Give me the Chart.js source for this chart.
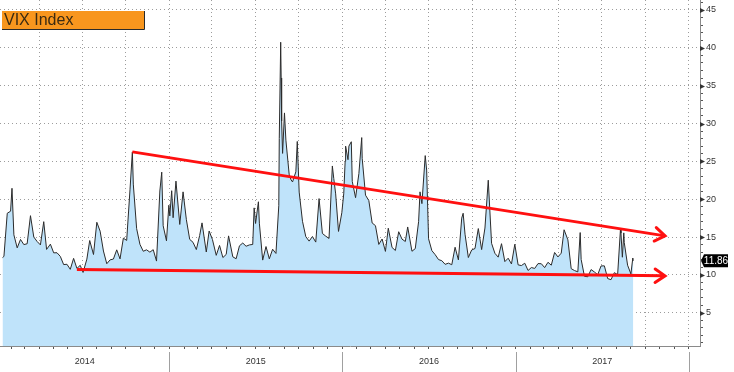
<!DOCTYPE html>
<html><head><meta charset="utf-8">
<script src="https://cdn.jsdelivr.net/npm/chart.js@4.4.1/dist/chart.umd.min.js"></script>
<style>html,body{margin:0;padding:0;background:#fff;} #wrap{width:734px;height:372px;position:relative;}</style>
</head><body><div id="wrap"><canvas id="c" width="734" height="372"></canvas></div>
<script>
// ---------- data ----------
const title = 'VIX Index';
const d2014 = ['01-14','01-17','01-24','01-31','02-03','02-07','02-14','02-21','02-28','03-07','03-14','03-21','03-28','04-04','04-11','04-17','04-25','05-02','05-09','05-16','05-23','05-30','06-06','06-13','06-20','06-27','07-03','07-11','07-17','07-25','08-01','08-08','08-15','08-22','08-29','09-05','09-12','09-19','09-26','10-03','10-10','10-15','10-17','10-24','10-31','11-07','11-14','11-21','11-28','12-05','12-12','12-16','12-19','12-26','12-31'];
const v2014 = [12.28,12.44,18.14,18.41,21.44,15.29,13.57,14.68,14.00,14.11,17.82,15.00,14.41,13.96,17.03,13.36,14.06,12.91,12.92,12.44,11.36,11.40,10.73,12.18,10.85,11.26,10.32,12.08,14.54,12.69,16.95,15.77,13.15,11.47,11.98,12.09,13.31,12.11,14.85,14.55,21.24,26.25,21.99,16.11,14.03,13.12,13.31,13.00,13.33,11.82,21.08,23.57,16.49,14.50,19.20];
const d2015 = ['01-02','01-06','01-09','01-15','01-23','01-30','02-06','02-13','02-20','02-27','03-06','03-11','03-20','03-26','04-02','04-10','04-17','04-24','05-01','05-06','05-15','05-22','05-29','06-05','06-12','06-19','06-26','06-29','07-02','07-08','07-10','07-17','07-24','07-31','08-07','08-14','08-20','08-21','08-24','08-25','08-26','08-28','09-01','09-04','09-11','09-15','09-18','09-25','09-28','10-02','10-09','10-16','10-23','10-30','11-06','11-13','11-20','11-27','12-04','12-11','12-14','12-18','12-24','12-31'];
const v2015 = [17.79,21.12,17.55,22.39,16.66,20.97,17.29,14.69,14.30,13.34,15.20,16.87,13.02,15.80,14.67,12.58,13.89,12.29,12.70,15.15,12.38,12.13,13.84,14.21,13.78,13.96,14.02,18.85,16.79,19.66,16.83,11.95,13.74,12.12,13.39,12.83,19.14,28.03,40.74,36.02,30.32,26.05,31.40,27.80,23.20,22.54,22.28,23.62,27.63,20.94,17.08,15.05,14.46,15.07,14.33,20.08,15.47,15.12,14.81,24.39,22.73,20.70,15.74,18.21];
const d2016 = ['01-04','01-07','01-08','01-13','01-15','01-20','01-22','01-29','02-05','02-11','02-12','02-19','02-26','03-04','03-11','03-18','03-25','04-01','04-07','04-15','04-22','04-29','05-06','05-13','05-18','05-27','06-03','06-10','06-13','06-17','06-24','06-27','07-01','07-08','07-15','07-22','07-29','08-05','08-12','08-19','08-26','09-02','09-09','09-12','09-16','09-23','09-30','10-07','10-14','10-21','10-28','11-04','11-11','11-18','11-25','12-02','12-09','12-16','12-23','12-30'];
const v2016 = [20.70,24.99,27.01,25.22,27.02,27.59,22.34,20.20,23.38,28.14,25.40,20.53,19.81,16.86,16.50,14.02,14.74,13.10,16.16,13.62,13.22,15.70,14.72,14.41,16.33,13.12,13.47,17.03,20.97,19.41,25.76,23.85,14.77,13.20,12.67,12.02,11.87,11.39,11.55,11.34,13.65,11.98,17.50,18.14,15.37,12.29,13.29,13.48,16.12,13.34,16.19,22.51,14.17,12.85,12.34,14.12,11.75,12.20,11.44,14.04];
const d2017 = ['01-06','01-13','01-20','01-27','02-03','02-10','02-17','02-24','03-03','03-10','03-17','03-24','03-31','04-07','04-13','04-21','04-28','05-05','05-12','05-17','05-19','05-26','06-02','06-09','06-16','06-23','06-30','07-07','07-14','07-21','07-28','08-04','08-10','08-11','08-14','08-17','08-18','08-25','09-01','09-05','09-06'];
const v2017 = [11.32,11.23,11.54,10.58,10.97,10.85,11.49,11.47,10.96,11.66,11.28,12.96,12.37,12.87,15.96,14.63,10.82,10.57,10.40,15.59,12.04,9.81,9.75,10.70,10.38,10.02,11.18,11.19,9.51,9.36,10.29,10.03,16.04,15.51,12.33,15.55,14.26,11.28,10.13,12.23,11.86];
const yearLabels = ['2014','2015','2016','2017'];
const yTickValues = [5,10,15,20,25,30,35,40,45];
const lastValueLabel = '11.86';
const upperTrendDates = ['2014-10-15','2017-11-12'];
const upperTrendValues = [26.25,15.15];
const lowerTrendDates = ['2014-06-20','2017-11-12'];
const lowerTrendValues = [10.72,9.87];

// ---------- build ----------
const DAY = 86400000;
const ts = s => Date.parse(s + 'T00:00:00Z');
const series = (yr, ds, vs) => ds.map((d, i) => ({x: ts(yr + '-' + d), y: vs[i]}));
const vixData = [].concat(series(2014, d2014, v2014), series(2015, d2015, v2015), series(2016, d2016, v2016), series(2017, d2017, v2017));
const pair = (ds, vs) => ds.map((d, i) => ({x: ts(d), y: vs[i]}));

const xMin = ts('2014-01-01') + 7.7 * DAY;
const xMax = ts('2018-01-01') + 23.8 * DAY;
const yMin = 0.6, yMax = 46.32;

const monthTicks = [];
for (let y = 2014; y <= 2018; y++) for (let m = 0; m < 12; m++) {
  const v = Date.UTC(y, m, 1);
  if (v >= xMin && v <= xMax) monthTicks.push(v);
}
const labelTicks = {};
yearLabels.forEach(yl => {
  const a = Math.max(Date.UTC(+yl, 0, 1), xMin), b = Math.min(Date.UTC(+yl + 1, 0, 1), xMax);
  labelTicks[Math.round((a + b) / 2)] = yl;
});
const yearBounds = yearLabels.map(yl => Date.UTC(+yl + 1, 0, 1));
const isQuarter = v => { const d = new Date(v); return d.getUTCDate() === 1 && d.getUTCMonth() % 3 === 0; };

const FONT = "'Liberation Sans', Arial, sans-serif";
const GRID = '#9c9c9c';
const zeroPad = s => { s.paddingLeft = 0; s.paddingRight = 0; s.paddingTop = 0; s.paddingBottom = 0; };

const decor = {
  id: 'decor',
  afterDraw(chart) {
    const ctx = chart.ctx, xs = chart.scales.x, ys = chart.scales.y, ca = chart.chartArea;
    ctx.save();
    // title box
    ctx.fillStyle = '#f8961e';
    ctx.fillRect(2, 11, 142, 18);
    ctx.strokeStyle = '#2a2a2a'; ctx.lineWidth = 1;
    ctx.beginPath(); ctx.moveTo(2, 29.5); ctx.lineTo(144.5, 29.5); ctx.lineTo(144.5, 11); ctx.stroke();
    ctx.fillStyle = '#3b2b12';
    ctx.font = '16px ' + FONT; ctx.textBaseline = 'middle'; ctx.textAlign = 'left';
    ctx.fillText(title, 4, 20.5);
    // year separators below axis
    ctx.strokeStyle = '#a0a0a0'; ctx.lineWidth = 1;
    yearBounds.forEach(v => {
      const px = Math.round(xs.getPixelForValue(v)) + 0.5;
      if (px > ca.right) return;
      ctx.beginPath(); ctx.moveTo(px, ca.bottom + 6); ctx.lineTo(px, 372); ctx.stroke();
    });
    // major tick markers on right axis
    ctx.fillStyle = '#333';
    yTickValues.forEach(v => {
      const py = Math.round(ys.getPixelForValue(v)) + 0.5;
      ctx.beginPath(); ctx.moveTo(ca.right, py - 2.5); ctx.lineTo(ca.right + 5, py); ctx.lineTo(ca.right, py + 2.5); ctx.closePath(); ctx.fill();
    });
    // last value label
    const lv = parseFloat(lastValueLabel);
    const ly = ys.getPixelForValue(lv);
    ctx.fillStyle = '#000';
    ctx.beginPath();
    ctx.moveTo(ca.right + 1, ly); ctx.lineTo(ca.right + 4, ly - 6.5); ctx.lineTo(ca.right + 28, ly - 6.5);
    ctx.lineTo(ca.right + 28, ly + 6.5); ctx.lineTo(ca.right + 4, ly + 6.5); ctx.closePath(); ctx.fill();
    ctx.fillStyle = '#fff'; ctx.font = '10px ' + FONT; ctx.textAlign = 'center';
    ctx.fillText(lastValueLabel, ca.right + 16, ly + 0.5);
    // arrowheads on trend lines
    [1, 2].forEach(i => {
      const pts = chart.getDatasetMeta(i).data;
      const p1 = pts[pts.length - 2], p2 = pts[pts.length - 1];
      const ang = Math.atan2(p2.y - p1.y, p2.x - p1.x);
      const L = 12, A = 0.6;
      ctx.strokeStyle = '#ff1010'; ctx.lineWidth = 3; ctx.lineCap = 'round';
      ctx.beginPath();
      ctx.moveTo(p2.x - L * Math.cos(ang - A), p2.y - L * Math.sin(ang - A));
      ctx.lineTo(p2.x, p2.y);
      ctx.lineTo(p2.x - L * Math.cos(ang + A), p2.y - L * Math.sin(ang + A));
      ctx.stroke();
    });
    ctx.restore();
  }
};

new Chart(document.getElementById('c'), {
  type: 'line',
  data: {
    datasets: [
      {data: vixData, order: 3, borderColor: '#2b2b2b', borderWidth: 1, backgroundColor: '#bfe3fa', fill: 'origin', pointRadius: 0, tension: 0},
      {data: pair(upperTrendDates, upperTrendValues), order: 1, borderColor: '#ff1010', borderWidth: 3, pointRadius: 0, fill: false},
      {data: pair(lowerTrendDates, lowerTrendValues), order: 1, borderColor: '#ff1010', borderWidth: 3, pointRadius: 0, fill: false}
    ]
  },
  options: {
    responsive: false, animation: false, maintainAspectRatio: false,
    layout: {padding: 0, autoPadding: false},
    plugins: {legend: {display: false}, tooltip: {enabled: false}, title: {display: false}},
    scales: {
      x: {
        type: 'linear', min: xMin, max: xMax, z: 1,
        afterBuildTicks: s => {
          const all = monthTicks.concat(Object.keys(labelTicks).map(Number)).sort((a, b) => a - b);
          s.ticks = all.map(v => ({value: v}));
        },
        afterFit: s => { s.height = 26; zeroPad(s); },
        grid: {
          color: c => (c.tick && isQuarter(c.tick.value) && !labelTicks[c.tick.value]) ? GRID : 'rgba(0,0,0,0)',
          tickColor: c => (c.tick && labelTicks[c.tick.value]) ? 'rgba(0,0,0,0)' : '#555',
          tickLength: 3, lineWidth: 1
        },
        border: {display: true, color: '#8a8a8a', width: 1, dash: [1, 3]},
        ticks: {
          autoSkip: false, maxRotation: 0, minRotation: 0, padding: 7,
          font: {family: FONT, size: 9}, color: '#333',
          callback: v => labelTicks[v] || ''
        }
      },
      y: {
        type: 'linear', position: 'right', min: yMin, max: yMax, z: 1,
        afterBuildTicks: s => {
          const t = [];
          for (let v = 1; v <= 46; v++) t.push({value: v});
          s.ticks = t;
        },
        afterFit: s => { s.width = 34; zeroPad(s); },
        grid: {
          color: c => (c.tick && yTickValues.includes(c.tick.value)) ? GRID : 'rgba(0,0,0,0)',
          tickColor: c => (c.tick && yTickValues.includes(c.tick.value)) ? 'rgba(0,0,0,0)' : '#555',
          tickLength: 3, lineWidth: 1
        },
        border: {display: true, color: '#8a8a8a', width: 1, dash: [1, 3]},
        ticks: {
          autoSkip: false, padding: 3,
          font: {family: FONT, size: 9}, color: '#333',
          callback: v => yTickValues.includes(v) ? String(v) : ''
        }
      }
    }
  },
  plugins: [decor]
});
</script>
</body></html>
